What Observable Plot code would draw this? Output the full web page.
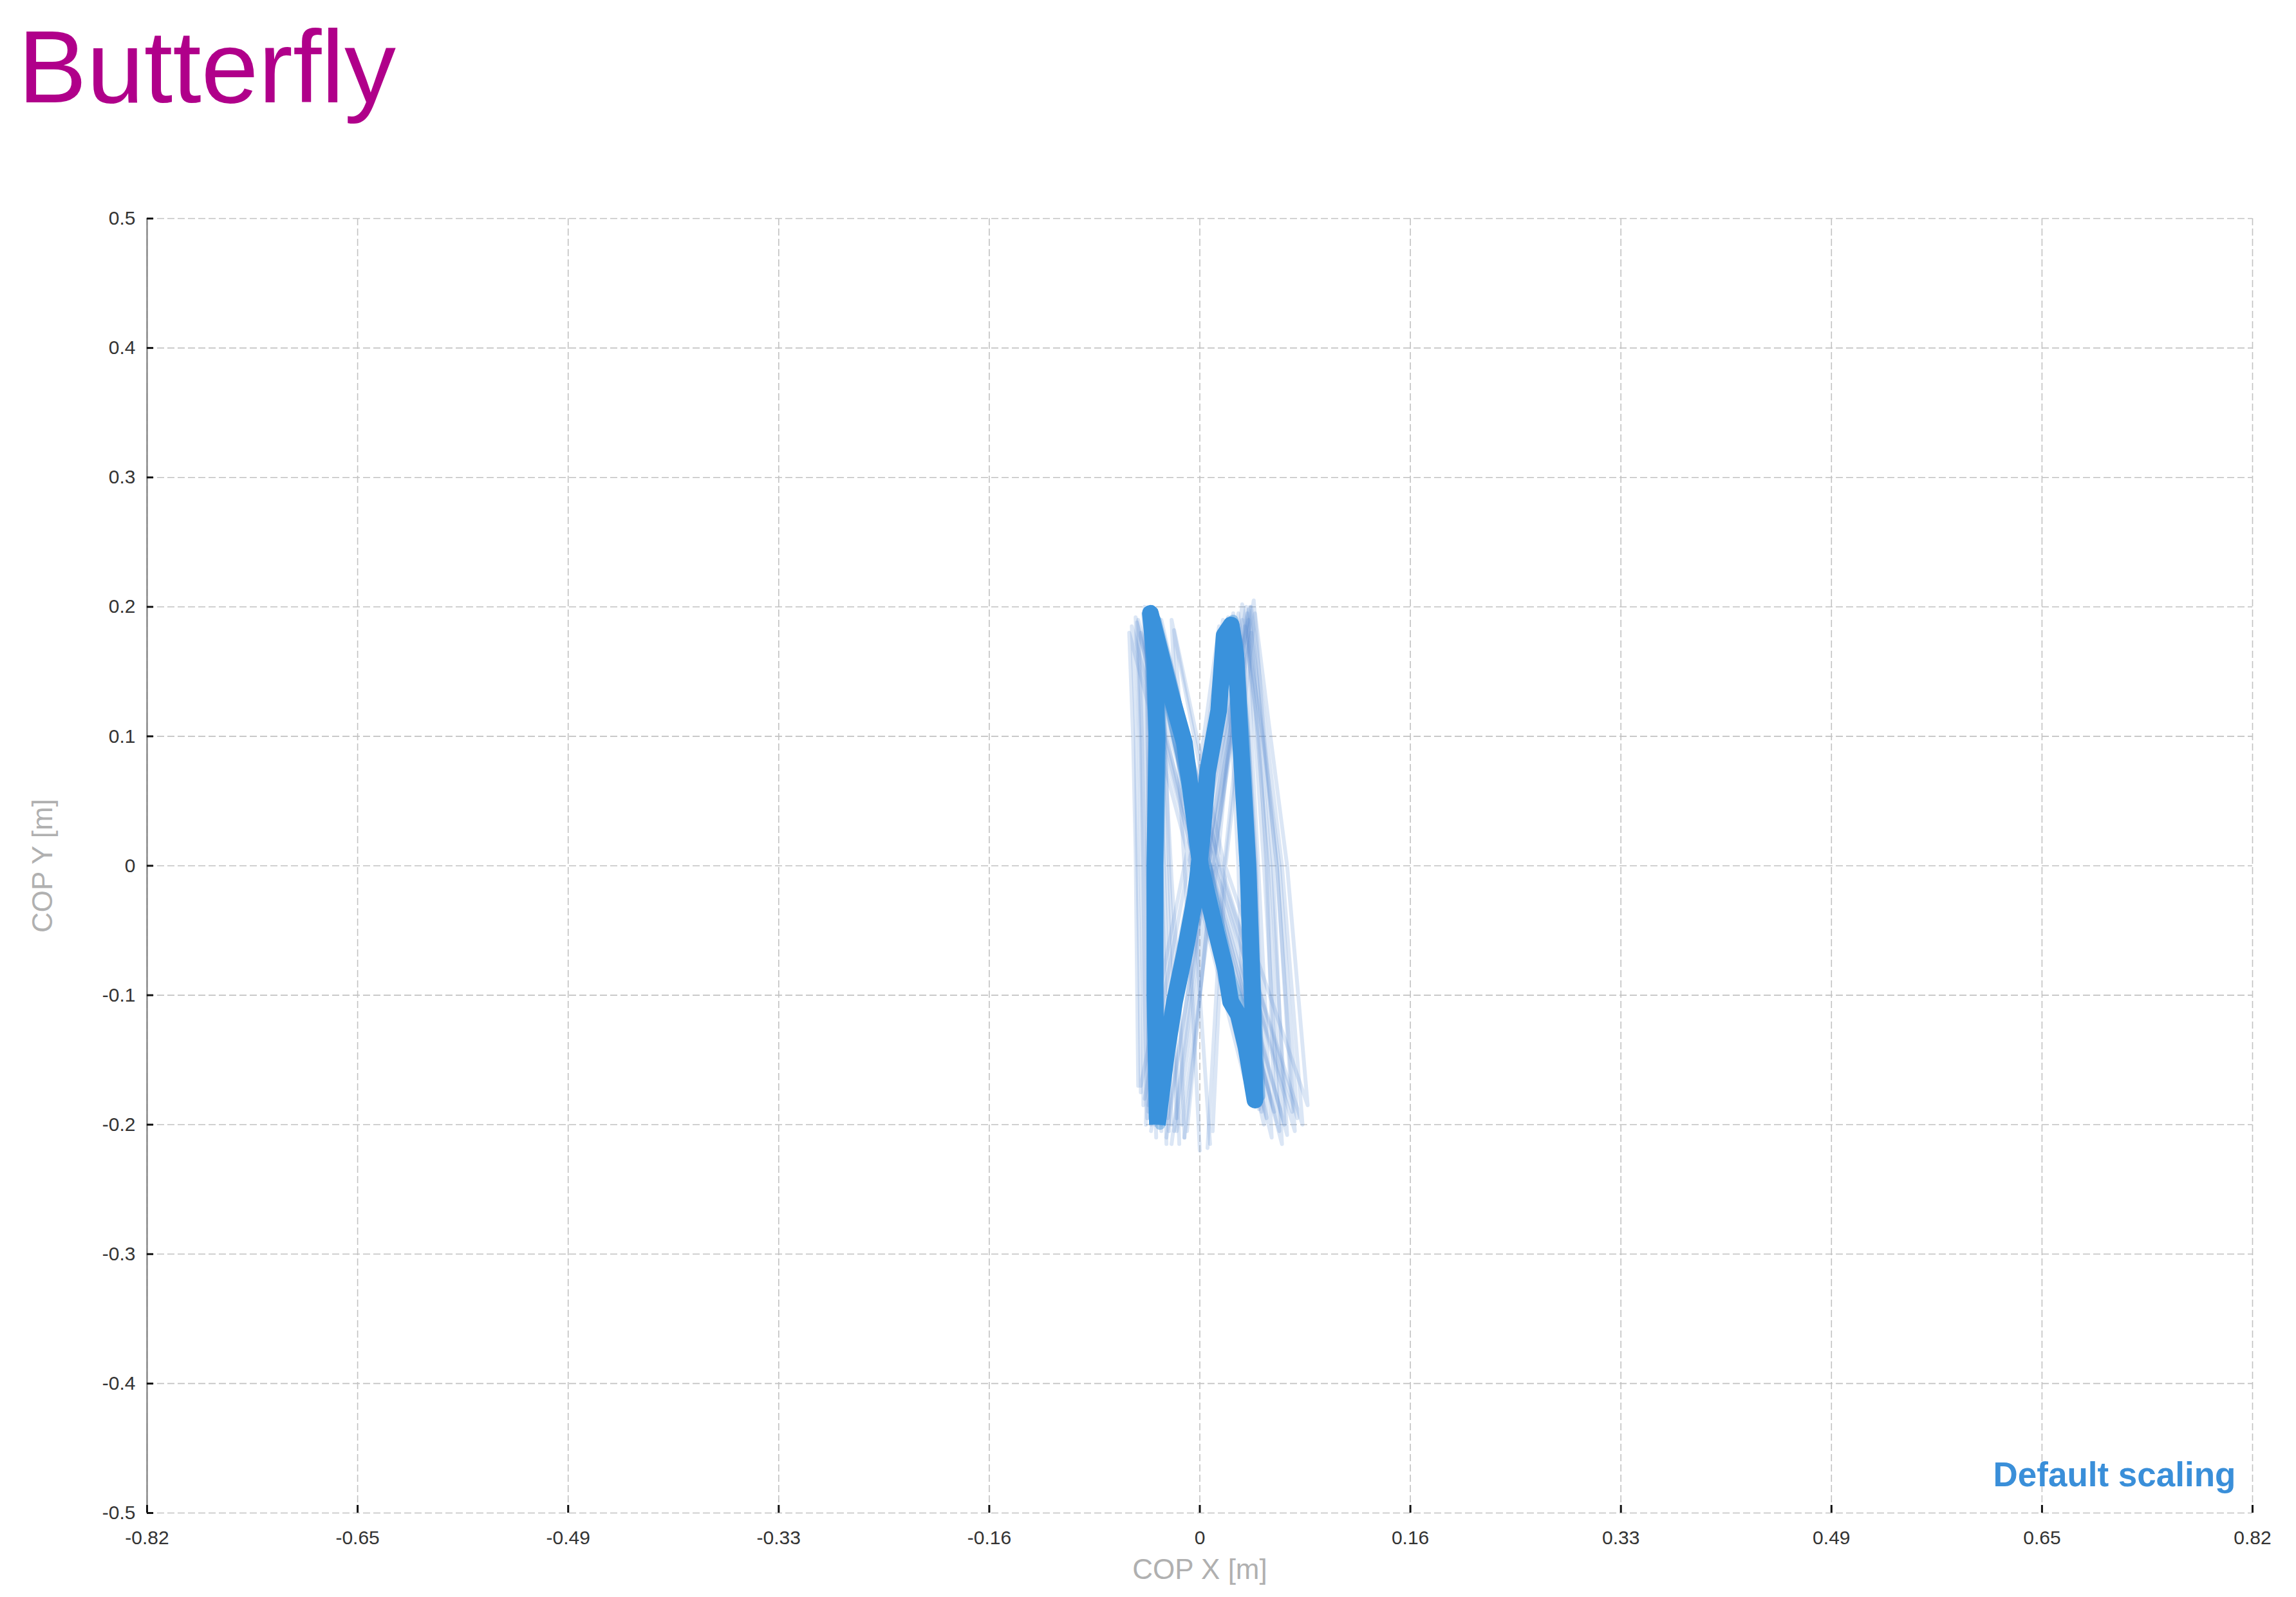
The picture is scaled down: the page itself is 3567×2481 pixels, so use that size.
<!DOCTYPE html>
<html><head><meta charset="utf-8">
<script src="https://cdn.jsdelivr.net/npm/d3@7"></script>
<script src="https://cdn.jsdelivr.net/npm/@observablehq/plot@0.6"></script>
<style>
html,body{margin:0;padding:0;background:#fff;}
#title{height:205px;box-sizing:border-box;padding-left:28px;padding-top:4px;font-family:"Liberation Sans",Arial,sans-serif;font-size:160px;line-height:200px;color:#b0008a;white-space:nowrap;}
#chart svg{display:block;}
</style></head><body>
<div id="title">Butterfly</div>
<div id="chart"></div>
<script>
const titleText = "Butterfly";
const xAxisTitle = "COP X [m]";
const yAxisTitle = "COP Y [m]";
const badgeText = "Default scaling";

const xTickValues = [-0.82,-0.656,-0.492,-0.328,-0.164,0,0.164,0.328,0.492,0.656,0.82];
const xTickLabels = ["-0.82","-0.65","-0.49","-0.33","-0.16","0","0.16","0.33","0.49","0.65","0.82"];
const yTickValues = [-0.5,-0.4,-0.3,-0.2,-0.1,0,0.1,0.2,0.3,0.4,0.5];
const yTickLabels = ["-0.5","-0.4","-0.3","-0.2","-0.1","0","0.1","0.2","0.3","0.4","0.5"];

// main (thick) COP path: [x, y]
const mainPath = [
  [-0.033,-0.200],[-0.034,-0.150],[-0.035,-0.100],[-0.035,0.000],[-0.0335,0.100],[-0.035,0.160],[-0.0385,0.195],
  [-0.023,0.134],[-0.012,0.095],[-0.006,0.050],[0.0005,0.000],[0.010,-0.040],[0.020,-0.080],[0.024,-0.105],[0.030,-0.115],[0.036,-0.140],[0.043,-0.181],
  [0.041,-0.100],[0.0375,0.000],[0.0315,0.100],[0.028,0.163],[0.0244,0.186],[0.019,0.178],
  [0.0147,0.120],[0.006,0.072],[0.0016,0.020],[-0.0034,-0.023],[-0.0115,-0.066],[-0.0197,-0.105],[-0.026,-0.145],[-0.033,-0.200]
];

// semi-opaque strides lying close to the main path: [x, y]
const nearTraces = [
  [[-0.036,-0.195],[-0.037,-0.10],[-0.037,0.0],[-0.036,0.10],[-0.040,0.192],[-0.025,0.130],[-0.013,0.075],[-0.001,0.005],[0.010,-0.045],[0.022,-0.090],[0.030,-0.115],[0.040,-0.150],[0.047,-0.178],[0.044,-0.10],[0.040,0.0],[0.035,0.10],[0.030,0.170],[0.026,0.190],[0.020,0.180],[0.012,0.110],[0.004,0.050],[-0.002,0.000],[-0.010,-0.060],[-0.020,-0.110],[-0.030,-0.160],[-0.036,-0.195]],
  [[-0.031,-0.200],[-0.032,-0.10],[-0.032,0.0],[-0.030,0.10],[-0.034,0.190],[-0.020,0.135],[-0.009,0.080],[0.003,0.010],[0.013,-0.035],[0.024,-0.085],[0.032,-0.110],[0.038,-0.145],[0.043,-0.180],[0.038,-0.10],[0.035,0.0],[0.030,0.10],[0.026,0.160],[0.022,0.182],[0.017,0.175],[0.013,0.120],[0.006,0.075],[0.000,0.015],[-0.006,-0.030],[-0.014,-0.070],[-0.022,-0.110],[-0.028,-0.150],[-0.031,-0.200]]
];

// individual (thin, translucent) step traces: [x, y]
const thinTraces = [
  [[-0.040,-0.190],[-0.041,-0.10],[-0.043,0.0],[-0.045,0.10],[-0.048,0.190],[-0.004,0.010],[0.052,-0.195],[0.043,0.0],[0.037,0.10],[0.030,0.195],[0.001,0.015],[-0.036,-0.195]],
  [[-0.030,-0.205],[-0.032,-0.10],[-0.035,0.0],[-0.038,0.10],[-0.042,0.185],[0.003,0.020],[0.062,-0.205],[0.050,0.0],[0.043,0.10],[0.036,0.200],[0.006,0.005],[-0.026,-0.210]],
  [[-0.046,-0.175],[-0.047,-0.08],[-0.049,0.02],[-0.050,0.11],[-0.053,0.185],[-0.010,0.025],[0.038,-0.170],[0.033,0.0],[0.028,0.10],[0.018,0.190],[-0.006,0.015],[-0.043,-0.180]],
  [[-0.022,-0.200],[-0.025,-0.10],[-0.028,0.0],[-0.031,0.10],[-0.035,0.195],[0.010,0.005],[0.072,-0.190],[0.060,0.0],[0.050,0.10],[0.042,0.205],[0.013,0.020],[-0.018,-0.205]],
  [[-0.037,-0.185],[-0.039,-0.09],[-0.041,0.01],[-0.043,0.10],[-0.046,0.180],[0.000,0.020],[0.056,-0.210],[0.046,-0.01],[0.040,0.10],[0.038,0.190],[0.004,0.030],[-0.032,-0.190]],
  [[0.000,-0.220],[-0.006,-0.10],[-0.012,0.0],[-0.018,0.10],[-0.022,0.190],[0.015,0.000],[0.080,-0.200],[0.064,0.0],[0.052,0.10],[0.040,0.200],[0.018,-0.010],[0.006,-0.218]],
  [[-0.012,-0.210],[-0.016,-0.10],[-0.022,-0.01],[-0.028,0.10],[-0.032,0.182],[0.008,0.012],[0.068,-0.208],[0.055,0.0],[0.046,0.10],[0.035,0.185],[0.010,0.000],[-0.010,-0.205]],
  [[-0.042,-0.200],[-0.040,-0.10],[-0.041,0.0],[-0.040,0.10],[-0.043,0.200],[-0.002,0.018],[0.047,-0.185],[0.040,0.0],[0.034,0.10],[0.027,0.185],[0.000,0.012],[-0.038,-0.205]],
  [[-0.028,-0.190],[-0.030,-0.10],[-0.032,0.0],[-0.034,0.10],[-0.036,0.190],[0.005,0.000],[0.058,-0.190],[0.052,0.0],[0.046,0.10],[0.040,0.180],[0.008,0.010],[-0.025,-0.195]],
  [[-0.034,-0.210],[-0.036,-0.10],[-0.038,0.0],[-0.040,0.10],[-0.044,0.195],[0.001,0.008],[0.050,-0.200],[0.041,0.0],[0.035,0.10],[0.026,0.195],[0.002,0.000],[-0.030,-0.200]],
  [[-0.018,-0.195],[-0.022,-0.10],[-0.026,0.0],[-0.030,0.10],[-0.033,0.188],[0.012,0.015],[0.076,-0.195],[0.062,0.0],[0.049,0.10],[0.033,0.202],[0.014,0.005],[-0.014,-0.200]],
  [[-0.044,-0.185],[-0.044,-0.10],[-0.046,0.0],[-0.047,0.10],[-0.050,0.192],[-0.006,0.010],[0.044,-0.178],[0.038,0.0],[0.031,0.10],[0.022,0.192],[-0.003,0.010],[-0.040,-0.185]],
  [[-0.026,-0.215],[-0.029,-0.10],[-0.031,0.0],[-0.033,0.10],[-0.037,0.200],[0.004,0.015],[0.064,-0.215],[0.053,0.0],[0.045,0.10],[0.037,0.195],[0.007,0.012],[-0.022,-0.215]],
  [[-0.048,-0.170],[-0.049,-0.08],[-0.050,0.01],[-0.052,0.10],[-0.055,0.180],[-0.012,0.020],[0.035,-0.165],[0.030,0.0],[0.025,0.10],[0.015,0.185],[-0.008,0.020],[-0.046,-0.170]],
  [[0.008,-0.215],[0.000,-0.10],[-0.006,0.0],[-0.014,0.10],[-0.020,0.182],[0.018,0.005],[0.084,-0.185],[0.068,0.0],[0.055,0.10],[0.043,0.195],[0.020,0.000],[0.010,-0.205]],
  [[-0.038,-0.200],[-0.038,-0.10],[-0.039,0.0],[-0.041,0.10],[-0.041,0.195],[0.000,0.005],[0.048,-0.190],[0.044,0.0],[0.038,0.10],[0.033,0.190],[0.003,0.005],[-0.035,-0.200]],
  [[-0.032,-0.195],[-0.034,-0.10],[-0.035,0.0],[-0.036,0.10],[-0.039,0.190],[-0.010,0.070],[0.002,-0.010],[0.020,-0.090],[0.046,-0.188],[0.041,-0.10],[0.038,0.0],[0.033,0.10],[0.024,0.188],[0.010,0.080],[0.000,0.0],[-0.020,-0.110],[-0.030,-0.195]],
  [[-0.024,-0.205],[-0.027,-0.10],[-0.030,0.0],[-0.033,0.10],[-0.037,0.185],[0.006,0.008],[0.066,-0.200],[0.057,0.0],[0.049,0.10],[0.039,0.200],[0.009,0.015],[-0.020,-0.205]],
  [[-0.016,-0.215],[-0.020,-0.10],[-0.024,0.0],[-0.027,0.10],[-0.030,0.190],[0.011,0.010],[0.074,-0.205],[0.060,0.0],[0.049,0.10],[0.038,0.198],[0.012,0.010],[-0.012,-0.210]],
  [[-0.041,-0.195],[-0.043,-0.10],[-0.044,0.0],[-0.046,0.10],[-0.049,0.188],[-0.005,0.015],[0.043,-0.180],[0.036,0.0],[0.030,0.10],[0.020,0.188],[-0.002,0.015],[-0.038,-0.195]]
];

document.getElementById("title").textContent = titleText;

const mainRows = mainPath.map(([x, y]) => ({x, y}));
const nearRows = nearTraces.flatMap((tr, k) => tr.map(([x, y]) => ({trace: k, x, y})));
const thinRows = thinTraces.flatMap((tr, k) => tr.map(([x, y]) => ({trace: k, x, y})));
const xLabelMap = new Map(xTickValues.map((v, i) => [v, xTickLabels[i]]));
const yLabelMap = new Map(yTickValues.map((v, i) => [v, yTickLabels[i]]));

const gridStyle = {stroke: "#c2c2c2", strokeOpacity: 1, strokeWidth: 1.6, strokeDasharray: "11,5"};

const chart = Plot.plot({
  width: 3567,
  height: 2276,
  marginTop: 134,
  marginBottom: 131,
  marginLeft: 228,
  marginRight: 68,
  x: {domain: [-0.82, 0.82]},
  y: {domain: [-0.5, 0.5]},
  style: {fontFamily: "'Liberation Sans', Arial, sans-serif", fontSize: "30px", color: "#333", background: "#fff"},
  marks: [
    Plot.gridX(xTickValues, gridStyle),
    Plot.gridY(yTickValues, gridStyle),
    Plot.ruleX([-0.82], {stroke: "#8a8a8a", strokeWidth: 2.5}),
    Plot.line(thinRows, {x: "x", y: "y", z: "trace", stroke: "#5a8fd0", strokeOpacity: 0.22, strokeWidth: 6}),
    Plot.line(nearRows, {x: "x", y: "y", z: "trace", stroke: "#3a90da", strokeOpacity: 0.45, strokeWidth: 16, strokeLinejoin: "round"}),
    Plot.line(mainRows, {x: "x", y: "y", stroke: "#3a92dc", strokeWidth: 26, strokeLinejoin: "round", strokeLinecap: "butt"}),
    Plot.axisX(xTickValues, {tickSize: 12, dy: -12, tickFormat: () => "", label: null, stroke: "#111", strokeWidth: 3}),
    Plot.axisY(yTickValues, {tickSize: 10, dx: 10, tickFormat: () => "", label: null, stroke: "#111", strokeWidth: 3}),
    Plot.axisX(xTickValues, {tickSize: 0, tickPadding: 27, tickFormat: d => xLabelMap.get(d), label: null, fill: "#333", fontSize: 30}),
    Plot.axisY(yTickValues, {tickSize: 0, tickPadding: 18, tickFormat: d => yLabelMap.get(d), label: null, fill: "#333", fontSize: 30}),
    Plot.text([xAxisTitle], {text: d => d, frameAnchor: "bottom", textAnchor: "middle", lineAnchor: "bottom", dy: 102, fontSize: 44, fill: "#b0b0b0"}),
    Plot.text([yAxisTitle], {text: d => d, frameAnchor: "left", textAnchor: "middle", lineAnchor: "bottom", rotate: -90, dx: -148, fontSize: 44, fill: "#b0b0b0"}),
    Plot.text([badgeText], {text: d => d, frameAnchor: "bottom-right", textAnchor: "end", lineAnchor: "bottom", dx: -26, dy: -42, fontSize: 53, fontWeight: "bold", fill: "#3a8fd9"})
  ]
});
document.getElementById("chart").appendChild(chart);
</script></body></html>
